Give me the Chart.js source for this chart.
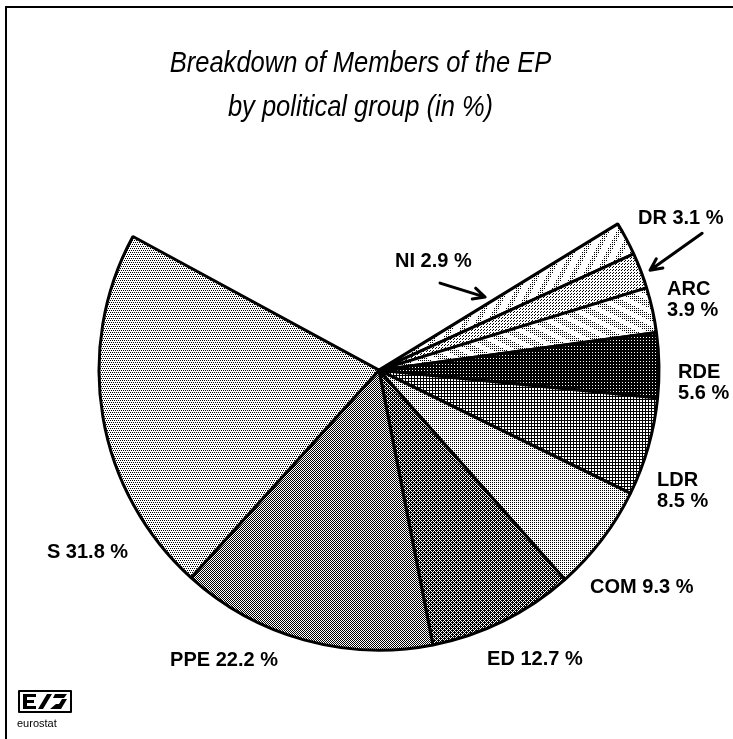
<!DOCTYPE html>
<html>
<head>
<meta charset="utf-8">
<script src="https://cdn.jsdelivr.net/npm/chart.js@4.4.1/dist/chart.umd.min.js"></script>
<style>
  html, body { margin: 0; padding: 0; background: #fff; }
  #wrap { position: relative; width: 733px; height: 739px; overflow: hidden; }
  #marco { position: absolute; left: 5px; top: 6px; width: 760px; height: 760px;
           border-left: 2px solid #000; border-top: 2px solid #000; }
  canvas { position: absolute; left: 0; top: 0; }
</style>
</head>
<body>
<div id="wrap">
  <div id="marco"></div>
  <canvas id="epChart" width="733" height="739"></canvas>
</div>
<script>
// ------------------------------------------------------------
// DATOS
// ------------------------------------------------------------
const grupos = ["NI", "DR", "ARC", "RDE", "LDR", "COM", "ED", "PPE", "S"];
const porcentajes = [2.9, 3.1, 3.9, 5.6, 8.5, 9.3, 12.7, 22.2, 31.8];
const titulo = ["Breakdown of Members of the EP", "by political group (in %)"];

// ------------------------------------------------------------
// TRAMAS (imitan el semitono del original)
// ------------------------------------------------------------
const canvas = document.getElementById("epChart");
const ctx0 = canvas.getContext("2d");

function crearPatron(ancho, alto, pinta) {
  const c = document.createElement("canvas");
  c.width = ancho;
  c.height = alto;
  const g = c.getContext("2d");
  g.fillStyle = "#fff";
  g.fillRect(0, 0, ancho, alto);
  g.fillStyle = "#000";
  for (let y = 0; y < alto; y++) {
    for (let x = 0; x < ancho; x++) {
      if (pinta(x, y)) g.fillRect(x, y, 1, 1);
    }
  }
  return ctx0.createPattern(c, "repeat");
}

function desdeFilas(filas) {
  return crearPatron(filas[0].length, filas.length, (x, y) => filas[y][x] === "x");
}

const rellenos = [
  // NI: franjas empinadas punteadas
  crearPatron(12, 24, (x, y) => (2 * x + y) % 24 < 9 && x % 2 === 0 && y % 2 === 0),
  // DR
  desdeFilas(["x..", "...", ".x."]),
  // ARC: punteado con franjas blancas
  crearPatron(24, 12, (x, y) => ((x - 2 * y) % 24 + 48) % 24 >= 9 && (x + y) % 2 === 0 && y % 2 === 0),
  // RDE
  desdeFilas(["xxx", "x.x", "xxx"]),
  // LDR
  desdeFilas(["xxx", "x..", "x.."]),
  // COM
  desdeFilas(["x.", ".."]),
  // ED
  desdeFilas([".xxx", "x.x.", "xx.x", "x.x."]),
  // PPE
  desdeFilas(["x.", ".x"]),
  // S
  desdeFilas(["x.", "..", ".x", ".."]),
];

// ------------------------------------------------------------
// UBICACIÓN DE ETIQUETAS (en radios, respecto del centro)
// ------------------------------------------------------------
const ubicEtiquetas = {
  NI:  { dx: 0.057, dy: -0.388, align: "left", lineas: 1 },
  DR:  { dx: 0.925, dy: -0.541, align: "left", lineas: 1 },
  ARC: { dx: 1.029, dy: -0.288, align: "left", lineas: 2 },
  RDE: { dx: 1.068, dy: 0.009, align: "left", lineas: 2 },
  LDR: { dx: 0.993, dy: 0.395, align: "left", lineas: 2 },
  COM: { dx: 0.754, dy: 0.777, align: "left", lineas: 1 },
  ED:  { dx: 0.386, dy: 1.034, align: "left", lineas: 1 },
  PPE: { dx: -0.746, dy: 1.036, align: "left", lineas: 1 },
  S:   { dx: -0.896, dy: 0.652, align: "right", lineas: 1 },
};

const flechas = {
  NI: { desde: [0.218, -0.311], hasta: [0.379, -0.261] },
  DR: { desde: [1.154, -0.489], hasta: [0.968, -0.357] },
};

function dibujarFlecha(ctx, x1, y1, x2, y2) {
  const ang = Math.atan2(y2 - y1, x2 - x1);
  const largo = 13;
  ctx.beginPath();
  ctx.moveTo(x1, y1);
  ctx.lineTo(x2, y2);
  ctx.moveTo(x2 - largo * Math.cos(ang - 0.45), y2 - largo * Math.sin(ang - 0.45));
  ctx.lineTo(x2, y2);
  ctx.lineTo(x2 - largo * Math.cos(ang + 0.45), y2 - largo * Math.sin(ang + 0.45));
  ctx.stroke();
}

const anotaciones = {
  id: "anotaciones",
  afterDraw(chart) {
    const ctx = chart.ctx;
    const arco = chart.getDatasetMeta(0).data[0];
    const cx = arco.x, cy = arco.y, r = arco.outerRadius;

    ctx.save();
    ctx.fillStyle = "#000";
    ctx.strokeStyle = "#000";

    // Título (Helvetica angosta en el original)
    ctx.font = "italic 29px 'Liberation Sans', Arial, sans-serif";
    ctx.textAlign = "center";
    ctx.textBaseline = "middle";
    titulo.forEach((t, i) => {
      ctx.save();
      ctx.translate(chart.width / 2 - 6, 64 + i * 44);
      ctx.scale(0.88, 1);
      ctx.fillText(t, 0, 0);
      ctx.restore();
    });

    // Etiquetas
    ctx.font = "bold 20px 'Liberation Sans', Arial, sans-serif";
    grupos.forEach((g, i) => {
      const u = ubicEtiquetas[g];
      const valor = porcentajes[i].toFixed(1) + " %";
      const textos = u.lineas === 2 ? [g, valor] : [g + " " + valor];
      ctx.textAlign = u.align;
      textos.forEach((t, k) => {
        ctx.fillText(t, cx + u.dx * r, cy + u.dy * r + k * 20.5);
      });
    });

    // Flechas
    ctx.lineWidth = 3;
    ctx.lineCap = "round";
    ctx.lineJoin = "round";
    Object.values(flechas).forEach((f) => {
      dibujarFlecha(ctx,
        cx + f.desde[0] * r, cy + f.desde[1] * r,
        cx + f.hasta[0] * r, cy + f.hasta[1] * r);
    });

    // Logo eurostat
    ctx.lineWidth = 2;
    ctx.lineCap = "butt";
    ctx.strokeRect(19, 691, 52, 21);
    ctx.fillRect(23, 694, 4, 15);
    ctx.fillRect(23, 694, 13, 3);
    ctx.fillRect(23, 700, 11, 3);
    ctx.fillRect(23, 706, 13, 3);
    ctx.beginPath();
    ctx.moveTo(38, 709); ctx.lineTo(43, 709); ctx.lineTo(52, 694); ctx.lineTo(47, 694);
    ctx.closePath(); ctx.fill();
    ctx.beginPath();
    ctx.moveTo(50, 709); ctx.lineTo(61, 709); ctx.lineTo(67, 699); ctx.lineTo(62, 699);
    ctx.lineTo(59, 704); ctx.lineTo(56, 704);
    ctx.closePath(); ctx.fill();
    ctx.beginPath();
    ctx.moveTo(55, 694); ctx.lineTo(67, 694); ctx.lineTo(64, 698); ctx.lineTo(53, 698);
    ctx.closePath(); ctx.fill();
    ctx.font = "11px 'Liberation Sans', Arial, sans-serif";
    ctx.textAlign = "left";
    ctx.textBaseline = "alphabetic";
    ctx.fillText("eurostat", 17, 727);

    ctx.restore();
  },
};

// ------------------------------------------------------------
// GRÁFICO
// ------------------------------------------------------------
new Chart(canvas, {
  type: "pie",
  data: {
    labels: grupos,
    datasets: [
      {
        data: porcentajes,
        backgroundColor: rellenos,
        borderColor: "#000",
        borderWidth: 3,
      },
    ],
  },
  options: {
    responsive: false,
    animation: false,
    devicePixelRatio: 1,
    events: [],
    rotation: 58.5,
    circumference: 240,
    radius: 280,
    layout: { padding: { top: 135, left: 25, right: 0, bottom: 0 } },
    plugins: {
      legend: { display: false },
      tooltip: { enabled: false },
      title: { display: false },
    },
  },
  plugins: [anotaciones],
});
</script>
</body>
</html>
